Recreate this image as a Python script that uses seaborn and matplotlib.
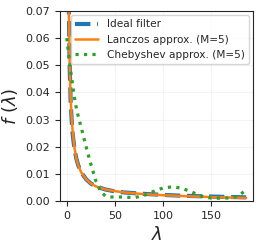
import matplotlib
matplotlib.use("Agg")
import matplotlib.pyplot as plt
import seaborn as sns
import numpy as np

# eigenvalues and filter responses
lam_ideal = [1, 1.5, 2, 3, 4, 5, 6, 8, 10, 12, 15, 20, 25, 30, 40, 50, 60, 80, 100, 120, 150, 186]
f_ideal = [0.15, 0.10, 0.075, 0.05, 0.037, 0.030, 0.025, 0.019, 0.0155, 0.013, 0.0105, 0.0080,
           0.0064, 0.0054, 0.0042, 0.0035, 0.0031, 0.0026, 0.0022, 0.0019, 0.0016, 0.0013]

lam_lanczos = [1, 1.5, 2, 3, 4, 5, 6, 8, 10, 12, 15, 20, 25, 30, 40, 50, 60, 80, 100, 120, 150, 186]
f_lanczos = [0.15, 0.10, 0.075, 0.05, 0.038, 0.031, 0.026, 0.0195, 0.0155, 0.013, 0.0105, 0.0080,
             0.0064, 0.0054, 0.0042, 0.0036, 0.0031, 0.0025, 0.0021, 0.0018, 0.0014, 0.0011]

lam_cheb = [0, 2, 4, 6, 8, 10, 12, 15, 20, 25, 30, 35, 40, 45, 50, 60, 70, 80, 90, 100,
            110, 120, 130, 140, 150, 160, 170, 178, 184]
f_cheb = [0.060, 0.054, 0.048, 0.043, 0.038, 0.034, 0.031, 0.027, 0.020, 0.0135, 0.0075, 0.0035,
          0.0018, 0.0014, 0.0015, 0.0014, 0.0012, 0.0020, 0.0035, 0.0048, 0.0052, 0.0046, 0.0032,
          0.0017, 0.0010, 0.0010, 0.0011, 0.0018, 0.0035]

sns.set_style("ticks")
pal = sns.color_palette("tab10")

fig = plt.figure(figsize=(2.61, 2.45), dpi=100)
ax = fig.add_axes([0.23, 0.18, 0.739, 0.775])

sns.lineplot(x=lam_ideal, y=f_ideal, ax=ax, color=pal[0], linestyle="--", linewidth=3,
             label="Ideal filter")
sns.lineplot(x=lam_lanczos, y=f_lanczos, ax=ax, color=pal[1], linewidth=1.8,
             label="Lanczos approx. (M=5)")
sns.lineplot(x=lam_cheb, y=f_cheb, ax=ax, color=pal[2], linestyle=":", linewidth=2.3,
             label="Chebyshev approx. (M=5)")

ax.set_xlim(-7, 193)
ax.set_ylim(0, 0.07)
ax.set_xticks([0, 50, 100, 150])
ax.set_yticks(np.arange(0, 0.071, 0.01))
ax.yaxis.set_major_formatter(matplotlib.ticker.FormatStrFormatter("%.2f"))
ax.tick_params(labelsize=8)
ax.grid(True, alpha=0.2)
ax.set_xlabel(r"$\lambda$", fontsize=13)
ax.set_ylabel(r"$f\ (\lambda)$", fontsize=13)
ax.legend(loc="upper right", fontsize=7.6, handlelength=2.2, borderaxespad=0.4)

fig.savefig("out.png", dpi=100)
